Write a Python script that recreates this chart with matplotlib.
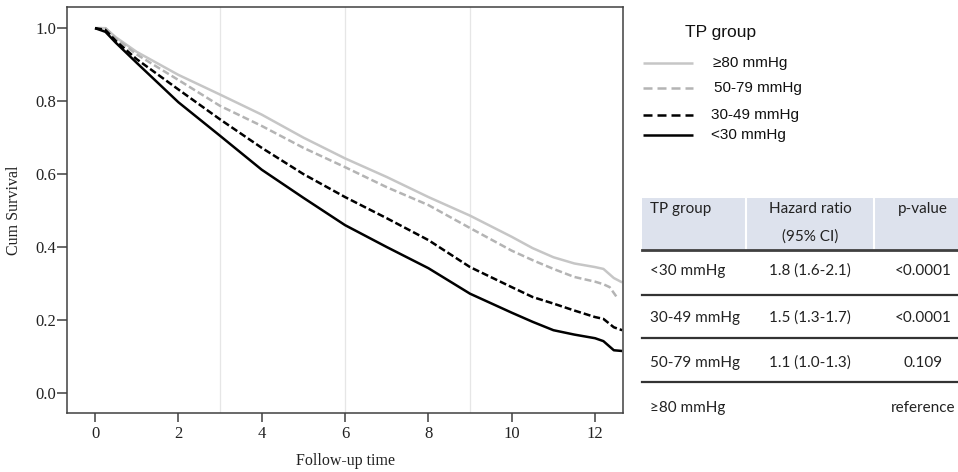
import matplotlib
matplotlib.use("Agg")
import matplotlib.pyplot as plt
from matplotlib.lines import Line2D
from matplotlib.patches import Rectangle

# ---------------- data ----------------
time = [0, 0.25, 0.5, 1, 2, 3, 4, 5, 6, 7, 8, 9, 10, 10.5, 11, 11.5, 12, 12.2, 12.45, 12.65]
surv_ge80 = [1.0, 1.0, 0.975, 0.935, 0.872, 0.818, 0.763, 0.70, 0.643, 0.592, 0.537, 0.486,
             0.428, 0.397, 0.372, 0.355, 0.345, 0.34, 0.315, 0.303]
time_50_79 = [0, 0.25, 0.5, 1, 2, 3, 4, 5, 6, 7, 8, 9, 10, 10.5, 11, 11.5, 12, 12.2, 12.35, 12.55]
surv_50_79 = [1.0, 1.0, 0.972, 0.928, 0.858, 0.787, 0.732, 0.672, 0.619, 0.564, 0.515, 0.452,
              0.39, 0.364, 0.34, 0.318, 0.305, 0.298, 0.29, 0.258]
surv_30_49 = [1.0, 0.995, 0.965, 0.915, 0.832, 0.75, 0.672, 0.60, 0.537, 0.479, 0.419, 0.345,
              0.29, 0.263, 0.245, 0.226, 0.208, 0.203, 0.18, 0.172]
surv_lt30 = [1.0, 0.99, 0.96, 0.905, 0.797, 0.705, 0.612, 0.535, 0.46, 0.40, 0.342, 0.272,
             0.22, 0.195, 0.172, 0.16, 0.15, 0.142, 0.117, 0.115]

x_ticks = [0, 2, 4, 6, 8, 10, 12]
y_ticks = [0.0, 0.2, 0.4, 0.6, 0.8, 1.0]
grid_x = [3, 6, 9]

legend_title = "TP group"
legend_labels = ["\u226580 mmHg", "50-79 mmHg", "30-49 mmHg", "<30 mmHg"]

table_header = ["TP group", "Hazard ratio", "p-value"]
table_header2 = "(95% CI)"
table_groups = ["<30 mmHg", "30-49 mmHg", "50-79 mmHg", "\u226580 mmHg"]
table_hr = ["1.8 (1.6-2.1)", "1.5 (1.3-1.7)", "1.1 (1.0-1.3)", ""]
table_p = ["<0.0001", "<0.0001", "0.109", "reference"]

# ---------------- styles ----------------
c_light = "#c6c6c6"
c_gray = "#b4b4b4"
c_black = "#000000"
LW = 1.8
styles = [
    dict(color=c_light, lw=LW, ls="-"),
    dict(color=c_gray, lw=LW, ls=(0, (2.8, 1.3))),
    dict(color=c_black, lw=LW, ls=(0, (2.8, 1.2))),
    dict(color=c_black, lw=LW, ls="-"),
]
legend_styles = [
    dict(color=c_light, lw=LW, ls="-"),
    dict(color=c_gray, lw=LW, ls=(0, (3.6, 2.0))),
    dict(color=c_black, lw=LW, ls=(0, (3.6, 2.0))),
    dict(color=c_black, lw=LW, ls="-"),
]

W, H = 958, 472
fig = plt.figure(figsize=(W / 100, H / 100), dpi=100)
fig.patch.set_facecolor("white")

L, R, T, B = 67, 623, 7, 413
ax = fig.add_axes([L / W, 1 - B / H, (R - L) / W, (B - T) / H])

for gx in grid_x:
    ax.axvline(gx, color="#e6e6e6", lw=0.9, zorder=0)

series = [(time, surv_ge80), (time_50_79, surv_50_79), (time, surv_30_49), (time, surv_lt30)]
for (t, s), st in zip(series, styles):
    ax.plot(t, s, solid_capstyle="butt", dash_capstyle="butt", solid_joinstyle="round", **st)

ax.set_xlim(-0.672, 12.67)
ax.set_ylim(-0.055, 1.058)
ax.set_xticks(x_ticks)
ax.set_yticks(y_ticks)
ax.set_xticklabels([str(v) for v in x_ticks])
ax.set_yticklabels([f"{v:.1f}" for v in y_ticks])

serif = "Liberation Serif"
for lab in ax.get_xticklabels() + ax.get_yticklabels():
    lab.set_fontfamily(serif)
    lab.set_fontsize(12)
    lab.set_color("#222222")
ax.tick_params(axis="x", direction="out", length=6.5, width=1.1, color="#404040", pad=2.5)
ax.tick_params(axis="y", direction="out", length=7, width=1.1, color="#404040", pad=0.5)
for sp in ax.spines.values():
    sp.set_color("#404040")
    sp.set_linewidth(1.1)

ax.set_xlabel("Follow-up time", fontfamily=serif, fontsize=11.5, color="#222222", labelpad=8)
ax.set_ylabel("Cum Survival", fontfamily=serif, fontsize=11.5, color="#222222", labelpad=10)

# ---------------- overlay for legend and table (pixel layout) ----------------
ov = fig.add_axes([0, 0, 1, 1], zorder=5)
ov.set_xlim(0, W)
ov.set_ylim(H, 0)
ov.axis("off")
ov.patch.set_alpha(0)

sans = "Liberation Sans"
ov.text(685, 32, legend_title, fontfamily=sans, fontsize=12.5, ha="left", va="center", color="#111111")
leg_y = [63, 88, 115, 135]
leg_tx = [713, 714, 711, 711]
for y, tx, lab, st in zip(leg_y, leg_tx, legend_labels, legend_styles):
    ov.add_line(Line2D([643, 693], [y, y], dash_capstyle="butt", solid_capstyle="butt", **st))
    ov.text(tx, y, lab, fontfamily=sans, fontsize=11, ha="left", va="center", color="#111111")

# table
tf = "Lato"
tfs = 11
tx0, tx1 = 642, 958
ov.add_patch(Rectangle((tx0, 198), tx1 - tx0, 52, facecolor="#dde2ed", edgecolor="none"))
for vx in [746, 874]:
    ov.add_line(Line2D([vx, vx], [198, 250], color="white", lw=1.5))
ov.add_line(Line2D([tx0, tx1], [250, 250], color="#404040", lw=2.0))
for ry in [295, 338, 382]:
    ov.add_line(Line2D([tx0, tx1], [ry, ry], color="#333333", lw=1.6))

col1_x, col2_x, col3_x = 650, 810, 923
ov.text(col1_x, 209, table_header[0], fontfamily=tf, fontsize=tfs, ha="left", va="center", color="#222222")
ov.text(col2_x, 209, table_header[1], fontfamily=tf, fontsize=tfs, ha="center", va="center", color="#222222")
ov.text(col2_x, 237, table_header2, fontfamily=tf, fontsize=tfs, ha="center", va="center", color="#222222")
ov.text(col3_x, 209, table_header[2], fontfamily=tf, fontsize=tfs, ha="center", va="center", color="#222222")

row_y = [271, 318, 363, 408]
for y, g, hr, p in zip(row_y, table_groups, table_hr, table_p):
    ov.text(col1_x, y, g, fontfamily=tf, fontsize=tfs, ha="left", va="center", color="#222222")
    if hr:
        ov.text(col2_x, y, hr, fontfamily=tf, fontsize=tfs, ha="center", va="center", color="#222222")
    ov.text(col3_x, y, p, fontfamily=tf, fontsize=tfs, ha="center", va="center", color="#222222")

fig.savefig("out.png", dpi=100, facecolor="white")
